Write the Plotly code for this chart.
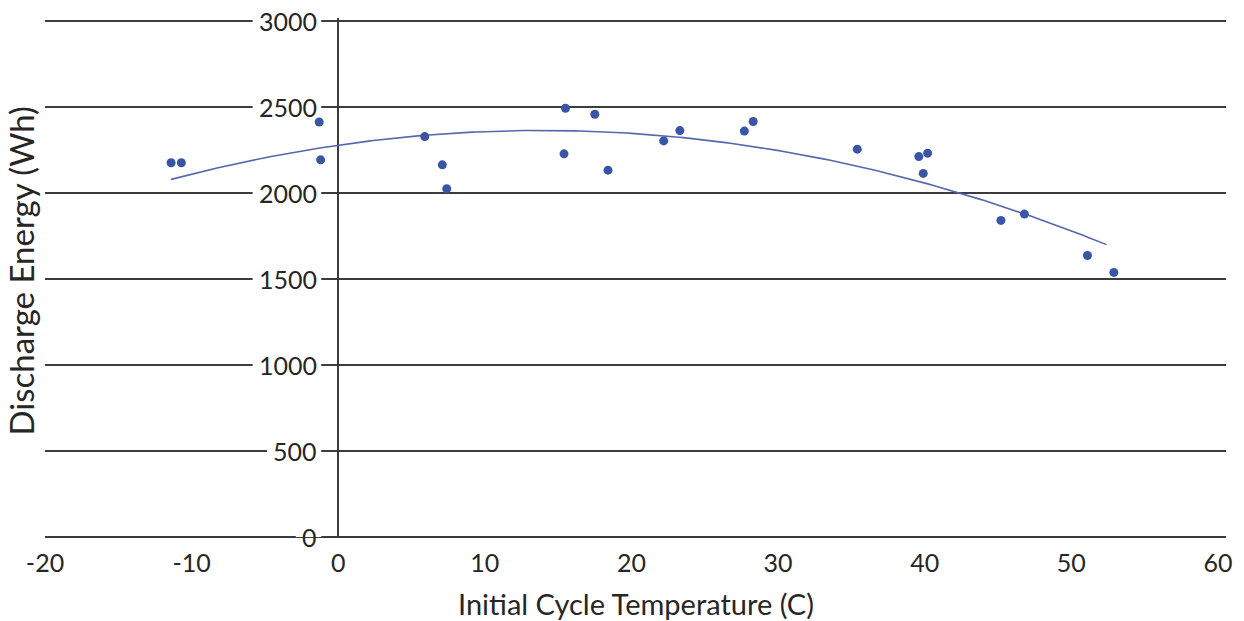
import numpy as np
import plotly.graph_objects as go

# Data
temperature_c = [-11.4, -10.7, -1.3, -1.2, 5.9, 7.1, 7.4, 15.5, 17.5, 15.4, 18.4,
                 22.2, 23.3, 27.7, 28.3, 35.4, 39.6, 40.2, 39.9, 45.2, 46.8, 51.1, 52.9]
discharge_wh = [2174, 2174, 2411, 2191, 2326, 2162, 2023, 2491, 2456, 2226, 2131,
                2301, 2361, 2358, 2414, 2253, 2210, 2230, 2112, 1839, 1876, 1635, 1537]

x_ticks = [-20, -10, 0, 10, 20, 30, 40, 50, 60]
y_ticks = [0, 500, 1000, 1500, 2000, 2500, 3000]

FONT = "Lato"
TXT = "#262626"
GRID = "#3c3c3c"
DOT = "#3b55a6"
LINE = "#5567ad"

# second-order polynomial trendline (as in the original spreadsheet chart)
coef = np.polyfit(temperature_c, discharge_wh, 2)
trend_x = np.linspace(min(temperature_c), max(temperature_c) - 0.5, 200)
trend_y = np.polyval(coef, trend_x)

fig = go.Figure()
fig.add_trace(go.Scatter(x=trend_x, y=trend_y, mode="lines",
                         line=dict(color=LINE, width=1.6), hoverinfo="skip",
                         showlegend=False))
fig.add_trace(go.Scatter(x=temperature_c, y=discharge_wh, mode="markers",
                         marker=dict(color=DOT, size=9), showlegend=False))

annotations = []
shapes = []
for v in y_ticks:
    label = str(v)
    annotations.append(dict(x=0, y=v, xref="x", yref="y", text=label,
                            showarrow=False, xanchor="right", yanchor="middle",
                            xshift=-19, borderpad=1,
                            font=dict(family=FONT, size=25, color=TXT)))
    # white gap in the gridline behind each y tick label (drawn under the markers)
    shapes.append(dict(type="rect", layer="between", xref="x", yref="y",
                       xsizemode="pixel", ysizemode="pixel",
                       xanchor=0, yanchor=v,
                       x0=-(17 + 11 + 14.4 * len(label)), x1=-17, y0=-4, y1=4,
                       fillcolor="white", line=dict(width=0)))
annotations.append(dict(x=0.5, y=0, xref="paper", yref="paper",
                        text="Initial Cycle Temperature (C)", showarrow=False,
                        xanchor="center", yanchor="middle", yshift=-66,
                        font=dict(family=FONT, size=29, color=TXT)))
annotations.append(dict(x=0, y=0.5, xref="paper", yref="paper",
                        text="Discharge Energy (Wh)", showarrow=False, textangle=-90,
                        xanchor="center", yanchor="middle", xshift=-25, yshift=6,
                        font=dict(family=FONT, size=33, color=TXT)))

fig.update_layout(
    width=1244, height=621,
    margin=dict(l=45, r=18, t=18, b=84),
    paper_bgcolor="white", plot_bgcolor="white",
    xaxis=dict(range=[-20, 60.55], tickvals=x_ticks, ticktext=[str(t) for t in x_ticks],
               showgrid=False, zeroline=True, zerolinecolor=GRID, zerolinewidth=2,
               showline=False, ticks="outside", ticklen=4, tickcolor="rgba(0,0,0,0)",
               tickfont=dict(family=FONT, size=25, color=TXT)),
    yaxis=dict(range=[0, 3015], tickvals=y_ticks, showticklabels=False,
               showgrid=True, gridcolor=GRID, gridwidth=1.6,
               zeroline=True, zerolinecolor=GRID, zerolinewidth=1.6,
               showline=False),
    annotations=annotations,
    shapes=shapes,
)

fig.write_html("out.html", config={"displayModeBar": False},
               post_script="document.body.style.margin='0';document.body.style.overflow='hidden';")
